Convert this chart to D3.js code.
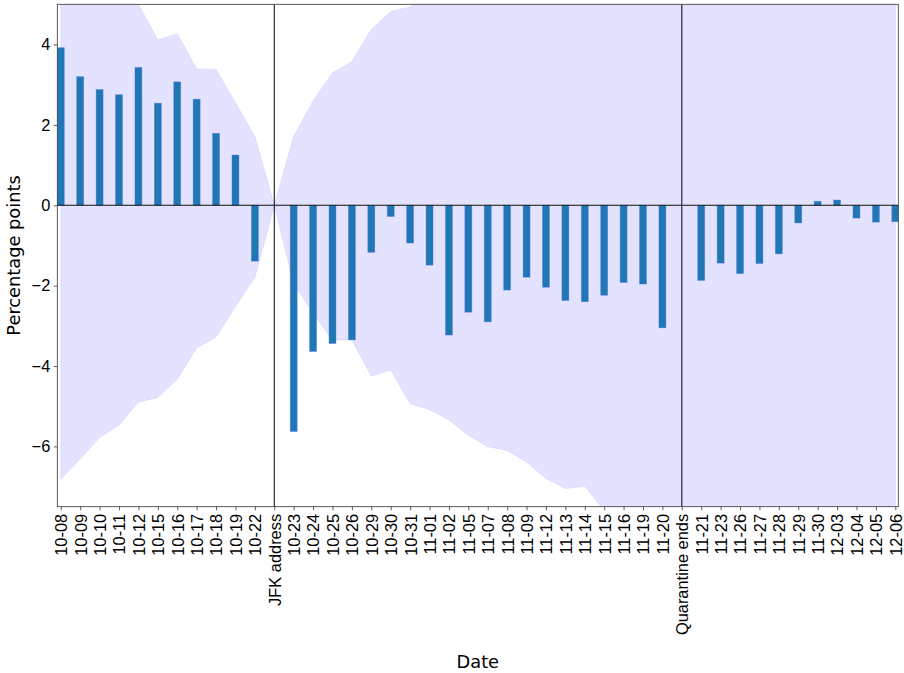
<!DOCTYPE html>
<html>
<head>
<meta charset="utf-8">
<script src="https://cdn.jsdelivr.net/npm/d3@7/dist/d3.min.js"></script>
<style>
  html, body { margin: 0; padding: 0; background: #fff; }
  svg { display: block; font-family: "DejaVu Sans", sans-serif; }
</style>
</head>
<body>
<svg id="chart" width="904" height="673"></svg>
<script>
const categories = ["10-08","10-09","10-10","10-11","10-12","10-15","10-16","10-17","10-18","10-19","10-22","JFK address","10-23","10-24","10-25","10-26","10-29","10-30","10-31","11-01","11-02","11-05","11-07","11-08","11-09","11-12","11-13","11-14","11-15","11-16","11-19","11-20","Quarantine ends","11-21","11-23","11-26","11-27","11-28","11-29","11-30","12-03","12-04","12-05","12-06"];

const values = [3.92,3.20,2.88,2.75,3.43,2.54,3.07,2.64,1.79,1.25,-1.39,null,-5.63,-3.64,-3.44,-3.35,-1.17,-0.28,-0.94,-1.49,-3.23,-2.66,-2.90,-2.11,-1.79,-2.04,-2.37,-2.40,-2.24,-1.92,-1.96,-3.05,null,-1.87,-1.44,-1.70,-1.45,-1.21,-0.44,0.10,0.13,-0.32,-0.42,-0.41];

const upperBand = [6.4,6.0,5.6,5.3,5.0,4.11,4.27,3.39,3.38,2.55,1.71,0,1.71,2.60,3.30,3.57,4.38,4.82,4.94,5.4,5.9,6.3,6.6,6.8,7.2,7.5,7.7,7.9,8.2,8.4,8.5,8.8,9.0,9.1,9.4,9.6,9.7,9.9,10.2,10.3,10.6,10.8,10.9,11.2];
const lowerBand = [-6.82,-6.31,-5.78,-5.47,-4.90,-4.78,-4.33,-3.55,-3.28,-2.52,-1.80,0,-1.94,-2.69,-3.35,-3.35,-4.25,-4.10,-4.94,-5.08,-5.34,-5.72,-6.01,-6.10,-6.39,-6.80,-7.05,-6.99,-7.6,-7.9,-8.1,-8.4,-8.6,-8.8,-9.0,-9.3,-9.4,-9.7,-9.9,-10.1,-10.3,-10.6,-10.8,-11.0];

const eventLabels = ["JFK address", "Quarantine ends"];
const yTicks = [-6,-4,-2,0,2,4];
const yDomain = [-7.5, 5];
const xTitle = "Date";
const yTitle = "Percentage points";

const W = 904, H = 673;
const plot = {left: 57.3, right: 898.3, top: 4.3, bottom: 506.7};

const svg = d3.select("#chart");

const x = d3.scalePoint().domain(categories).range([60.8, 895.3]);
const y = d3.scaleLinear().domain(yDomain).range([plot.bottom, plot.top]);
const barW = 7;

svg.append("defs").append("clipPath").attr("id", "clip")
  .append("rect")
  .attr("x", plot.left).attr("y", plot.top)
  .attr("width", plot.right - plot.left).attr("height", plot.bottom - plot.top);

const g = svg.append("g").attr("clip-path", "url(#clip)");

// band
const bandData = categories.map((c, i) => ({c, lo: lowerBand[i], hi: upperBand[i]}));
const area = d3.area()
  .x(d => x(d.c))
  .y0(d => y(d.lo))
  .y1(d => y(d.hi));
g.append("path")
  .datum(bandData)
  .attr("d", area)
  .attr("fill", "rgba(0,0,255,0.11)")
  .attr("stroke", "rgba(0,0,255,0.08)")
  .attr("stroke-width", 1);

// bars
const barData = categories.map((c, i) => ({c, v: values[i]})).filter(d => d.v !== null);
g.selectAll("rect.bar")
  .data(barData)
  .enter().append("rect")
  .attr("class", "bar")
  .attr("x", d => x(d.c) - barW / 2)
  .attr("width", barW)
  .attr("y", d => y(Math.max(0, d.v)))
  .attr("height", d => Math.abs(y(d.v) - y(0)))
  .attr("fill", "#1f77b4")
  .attr("stroke", "rgba(90,120,235,0.55)")
  .attr("stroke-width", 0.7);

// zero line
g.append("line")
  .attr("x1", plot.left).attr("x2", plot.right)
  .attr("y1", y(0)).attr("y2", y(0))
  .attr("stroke", "#111").attr("stroke-width", 1.2);

// event lines
eventLabels.forEach(lbl => {
  g.append("line")
    .attr("x1", x(lbl)).attr("x2", x(lbl))
    .attr("y1", plot.top).attr("y2", plot.bottom)
    .attr("stroke", "#000").attr("stroke-width", 1);
});

// axes
const xAxis = d3.axisBottom(x).tickSize(3.5).tickPadding(3.5);
const gx = svg.append("g").attr("transform", `translate(0,${plot.bottom})`).call(xAxis);
gx.select(".domain").remove();
gx.selectAll(".tick line").attr("stroke", "#333").attr("stroke-width", 0.8);
gx.selectAll(".tick text")
  .attr("font-size", "16.4px")
  .attr("fill", "#000")
  .attr("y", 0)
  .attr("x", -7.2)
  .attr("dy", "0.36em")
  .attr("text-anchor", "end")
  .attr("transform", "rotate(-90)");

const yAxis = d3.axisLeft(y).tickValues(yTicks).tickSize(3.5).tickPadding(3.5)
  .tickFormat(d => d3.format("d")(d).replace("-", "\u2212"));
const gy = svg.append("g").attr("transform", `translate(${plot.left},0)`).call(yAxis);
gy.select(".domain").remove();
gy.selectAll(".tick line").attr("stroke", "#333").attr("stroke-width", 0.8);
gy.selectAll(".tick text").attr("font-size", "16.4px").attr("fill", "#000");

// spines
svg.append("rect")
  .attr("x", plot.left).attr("y", plot.top)
  .attr("width", plot.right - plot.left).attr("height", plot.bottom - plot.top)
  .attr("fill", "none").attr("stroke", "#333").attr("stroke-width", 0.8);

// titles
svg.append("text")
  .attr("x", (plot.left + plot.right) / 2).attr("y", 668)
  .attr("text-anchor", "middle")
  .attr("font-size", "17.8px")
  .attr("fill", "#000")
  .text(xTitle);

svg.append("text")
  .attr("transform", `translate(20,${(plot.top + plot.bottom) / 2}) rotate(-90)`)
  .attr("text-anchor", "middle")
  .attr("font-size", "17.8px")
  .attr("fill", "#000")
  .text(yTitle);
</script>
</body>
</html>
